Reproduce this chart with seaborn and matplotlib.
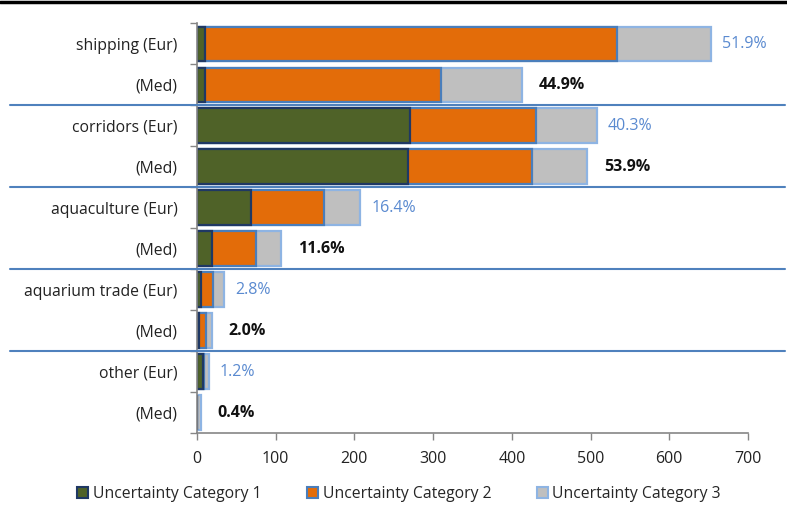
import matplotlib
matplotlib.use("Agg")
import matplotlib.pyplot as plt
import matplotlib.transforms as mtransforms
from matplotlib.patches import Patch
from matplotlib.lines import Line2D
import seaborn as sns
import pandas as pd
import numpy as np

# ---- data ----
categories = ["shipping (Eur)", "shipping (Med)", "corridors (Eur)", "corridors (Med)",
              "aquaculture (Eur)", "aquaculture (Med)", "aquarium trade (Eur)",
              "aquarium trade (Med)", "other (Eur)", "other (Med)"]
tick_labels = ["shipping (Eur)", "(Med)", "corridors (Eur)", "(Med)",
               "aquaculture (Eur)", "(Med)", "aquarium trade (Eur)", "(Med)",
               "other (Eur)", "(Med)"]
cat1 = [10, 10, 271, 268, 69, 19, 5, 2, 7, 0]
cat2 = [524, 300, 160, 158, 92, 56, 15, 10, 2, 0]
cat3 = [119, 103, 77, 70, 46, 32, 14, 7, 6, 5]
pct_labels = ["51.9%", "44.9%", "40.3%", "53.9%", "16.4%", "11.6%",
              "2.8%", "2.0%", "1.2%", "0.4%"]
region = ["Eur", "Med"] * 5
series_names = ["Uncertainty Category 1", "Uncertainty Category 2", "Uncertainty Category 3"]
x_ticks = [0, 100, 200, 300, 400, 500, 600, 700]

# ---- styles ----
fills = ["#4f6228", "#e36c09", "#bfbfbf"]
edges = ["#1f3864", "#4a7ebb", "#8eb4e3"]

df = pd.DataFrame({"cat": categories, "c1": cat1, "c2": cat2, "c3": cat3,
                   "pct": pct_labels, "region": region})
df["s1"] = df["c1"]
df["s2"] = df["c1"] + df["c2"]
df["s3"] = df["s2"] + df["c3"]

sns.set_theme(style="white")
plt.rcParams["font.family"] = ["Open Sans", "DejaVu Sans"]

fig = plt.figure(figsize=(7.87, 5.08), dpi=100)
ax = fig.add_axes([197/787, 1-433/508, (748-197)/787, (433-23.5)/508])

for col, fc, ec in [("s3", fills[2], edges[2]), ("s2", fills[1], edges[1]), ("s1", fills[0], edges[0])]:
    sns.barplot(data=df, x=col, y="cat", order=categories, orient="h", color=fc,
                saturation=1, edgecolor=ec, linewidth=1.6, width=0.85, ax=ax)

ax.set_xlim(0, 700)
ax.set_ylim(9.5, -0.5)
ax.set_xlabel("")
ax.set_ylabel("")
ax.set_xticks(x_ticks)
ax.set_xticklabels([str(t) for t in x_ticks], fontsize=11.5, color="#222222")
ax.set_yticks(range(len(categories)))
ax.set_yticklabels(tick_labels, fontsize=11.3, color="#222222")
ax.set_yticks(np.arange(-0.5, len(categories), 1.0), minor=True)
ax.tick_params(axis="y", which="major", length=0, pad=14)
ax.tick_params(axis="y", which="minor", length=5, color="#868686", width=1, direction="out", left=True)
ax.tick_params(axis="x", length=5, color="#868686", width=1, direction="out", bottom=True, pad=8)
for s in ["top", "right"]:
    ax.spines[s].set_visible(False)
for s in ["left", "bottom"]:
    ax.spines[s].set_color("#868686")
    ax.spines[s].set_linewidth(1.2)

# percent labels
for i, row in df.iterrows():
    if row["region"] == "Eur":
        ax.annotate(row["pct"], (row["s3"], i), xytext=(8, 0), textcoords="offset points",
                    va="center", ha="left", fontsize=11.5, color="#5a8ad0")
    else:
        ax.annotate(row["pct"], (row["s3"], i), xytext=(12, 0), textcoords="offset points",
                    va="center", ha="left", fontsize=11.5, color="#111111", fontweight="bold")

# group separators
trans = mtransforms.blended_transform_factory(fig.transFigure, ax.transData)
for y in [1.5, 3.5, 5.5, 7.5]:
    ax.add_line(Line2D([10/787, 785/787], [y, y], transform=trans, color="#4f81bd",
                       lw=1.5, clip_on=False, zorder=5))

# top border line
fig.add_artist(Line2D([0, 1], [1-2/508, 1-2/508], transform=fig.transFigure, color="black", lw=2.5))

handles = [Patch(facecolor=fills[k], edgecolor=edges[k], linewidth=1.5, label=series_names[k]) for k in range(3)]
fig.legend(handles=handles, loc="center", bbox_to_anchor=(399/787, 1-494/508), ncol=3,
           frameon=False, fontsize=11.3, handlelength=0.7, handleheight=0.7,
           handletextpad=0.3, columnspacing=2.9)

fig.savefig("out.png", dpi=100, facecolor="white")
